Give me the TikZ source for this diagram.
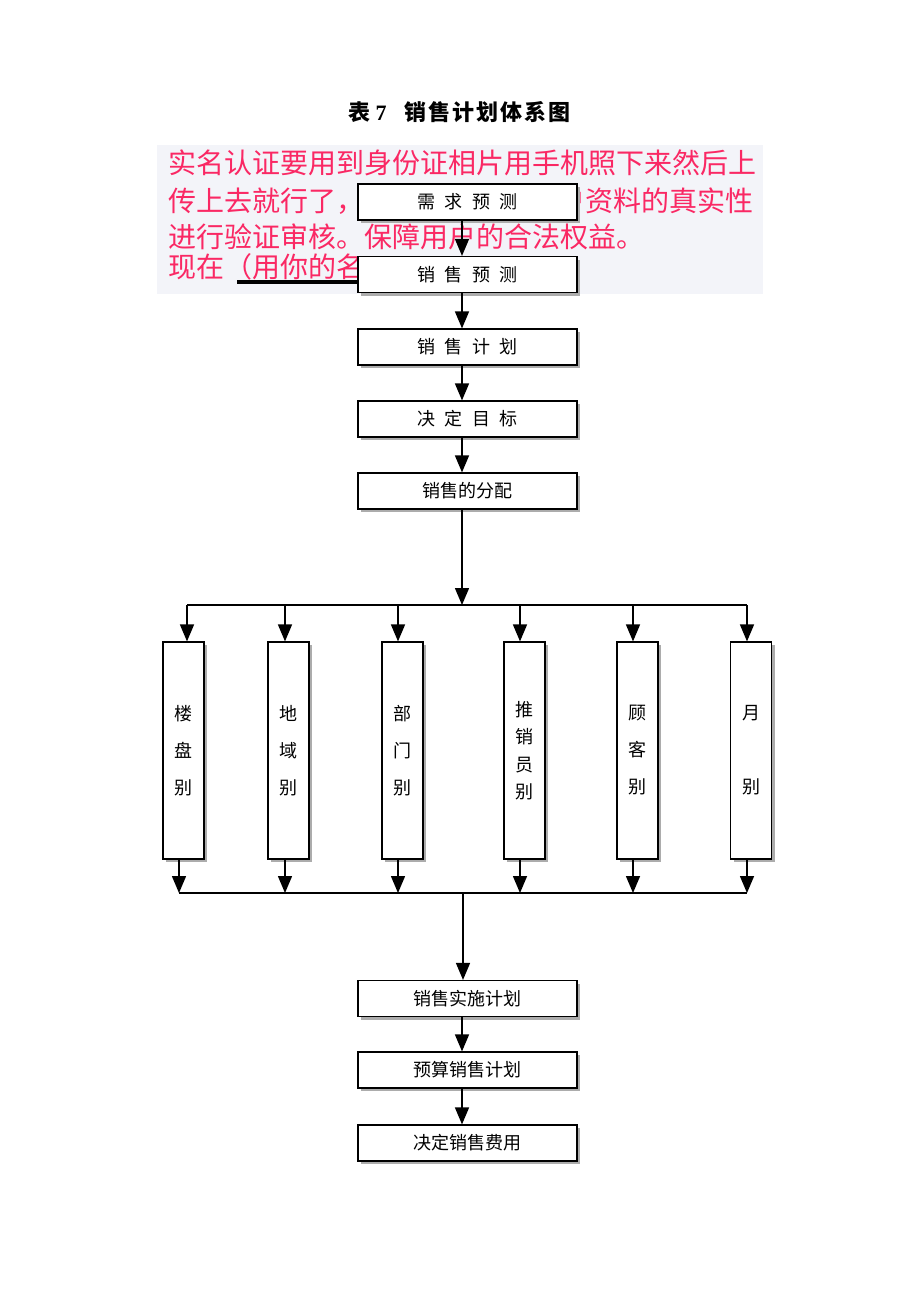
\documentclass[tikz,border=0pt]{standalone}
\usepackage{fontspec}
\setmainfont{Liberation Serif}
\newfontfamily\cjk{Noto Sans CJK SC}
\usetikzlibrary{arrows.meta,shadows}
\definecolor{pinktext}{RGB}{250,40,100}
\definecolor{bgpanel}{RGB}{243,244,249}
\tikzset{
  flowbox/.style={draw=black, line width=0.6pt, fill=white, inner sep=0pt,
    minimum width=109.5pt, minimum height=18pt,
    font=\cjk\fontsize{9pt}{11pt}\selectfont,
    drop shadow={shadow xshift=1.5pt, shadow yshift=-1.5pt, fill=gray!65, opacity=1}},
  tallbox/.style={draw=black, line width=0.6pt, fill=white, inner sep=0pt,
    minimum width=20.5pt, minimum height=108.5pt, align=center,
    font=\cjk\fontsize{9pt}{18.5pt}\selectfont,
    drop shadow={shadow xshift=1.5pt, shadow yshift=-1.5pt, fill=gray!65, opacity=1}},
  conn/.style={line width=0.75pt, draw=black},
  arr/.style={conn, -{Triangle[width=7pt,length=8.5pt]}},
  pinkline/.style={anchor=west, inner sep=0pt, text=pinktext, font=\cjk\fontsize{14pt}{14pt}\selectfont},
}
\begin{document}
\begin{tikzpicture}[x=0.5pt,y=-0.5pt]
\useasboundingbox[fill=white] (0,0) rectangle (920,1302);

% title
\node[inner sep=0pt, font=\bfseries\fontsize{11pt}{11pt}\selectfont] (title) at (459.5,112)
  {\cjk 表\hspace{2.5pt}\textrm{7}\hspace{9pt}销\hspace{1pt}售\hspace{1pt}计\hspace{1pt}划\hspace{1pt}体\hspace{1pt}系\hspace{1pt}图};

% overlay panel with pink text
\fill[bgpanel] (157,145) rectangle (763,294);
\node[pinkline] (p1) at (168,163) {实名认证要用到身份证相片用手机照下来然后上};
\node[pinkline] (p2a) at (168,201) {传上去就行了，};
\node[pinkline, anchor=east] (p2b) at (754,201) {户资料的真实性};
\node[pinkline] (p3) at (168,237) {进行验证审核。保障用户的合法权益。};
\node[pinkline] (p4) at (168,267) {现在（用你的名};
\fill[black] (237,280) rectangle (358,284);

% main column
\node[flowbox] (b1) at (467.5,202) {需\hspace{4.6pt}求\hspace{4.6pt}预\hspace{4.6pt}测};
\node[flowbox] (b2) at (467.5,274.5) {销\hspace{4.6pt}售\hspace{4.6pt}预\hspace{4.6pt}测};
\node[flowbox] (b3) at (467.5,347) {销\hspace{4.6pt}售\hspace{4.6pt}计\hspace{4.6pt}划};
\node[flowbox] (b4) at (467.5,419) {决\hspace{4.6pt}定\hspace{4.6pt}目\hspace{4.6pt}标};
\node[flowbox] (b5) at (467.5,491) {销售的分配};
\node[flowbox] (b6) at (467.5,998.5) {销售实施计划};
\node[flowbox] (b7) at (467.5,1070) {预算销售计划};
\node[flowbox] (b8) at (467.5,1143) {决定销售费用};

\coordinate (spine) at (462,0);
\draw[arr] (b1.south -| spine) -- (b2.north -| spine);
\draw[arr] (b2.south -| spine) -- (b3.north -| spine);
\draw[arr] (b3.south -| spine) -- (b4.north -| spine);
\draw[arr] (b4.south -| spine) -- (b5.north -| spine);
\draw[arr] (b6.south -| spine) -- (b7.north -| spine);
\draw[arr] (b7.south -| spine) -- (b8.north -| spine);

% category boxes
\node[tallbox] (c1) at (183.5,750.5) {楼\\盘\\别};
\node[tallbox] (c2) at (288.5,750.5) {地\\域\\别};
\node[tallbox] (c3) at (402.5,750.5) {部\\门\\别};
\node[tallbox, font=\cjk\fontsize{9pt}{13.75pt}\selectfont] (c4) at (524.5,750.5) {推\\销\\员\\别};
\node[tallbox] (c5) at (637.5,750.5) {顾\\客\\别};
\node[tallbox] (c6) at (751,750.5) {月\\[18.5pt]别};

% distribution bus
\coordinate (topbus) at (462,605);
\coordinate (t1) at (187,605);
\coordinate (t2) at (285,605);
\coordinate (t3) at (398,605);
\coordinate (t4) at (520,605);
\coordinate (t5) at (633,605);
\coordinate (t6) at (747,605);
\draw[arr] (b5.south -| spine) -- (topbus);
\draw[conn] (t1) -- (t6);
\draw[arr] (t1) -- (t1 |- c1.north);
\draw[arr] (t2) -- (t2 |- c2.north);
\draw[arr] (t3) -- (t3 |- c3.north);
\draw[arr] (t4) -- (t4 |- c4.north);
\draw[arr] (t5) -- (t5 |- c5.north);
\draw[arr] (t6) -- (t6 |- c6.north);

% collection bus
\coordinate (u1) at (179,893);
\coordinate (u2) at (285,893);
\coordinate (u3) at (398,893);
\coordinate (u4) at (520,893);
\coordinate (u5) at (633,893);
\coordinate (u6) at (747,893);
\coordinate (botbus) at (463,893);
\draw[arr] (u1 |- c1.south) -- (u1);
\draw[arr] (u2 |- c2.south) -- (u2);
\draw[arr] (u3 |- c3.south) -- (u3);
\draw[arr] (u4 |- c4.south) -- (u4);
\draw[arr] (u5 |- c5.south) -- (u5);
\draw[arr] (u6 |- c6.south) -- (u6);
\draw[conn] (u1) -- (u6);
\draw[arr] (botbus) -- (botbus |- b6.north);
\end{tikzpicture}
\end{document}
